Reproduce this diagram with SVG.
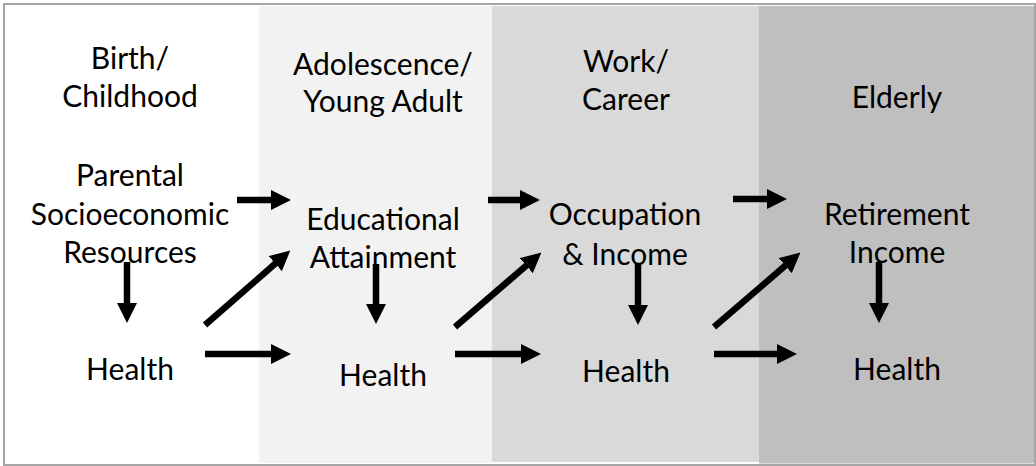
<svg xmlns="http://www.w3.org/2000/svg" width="1036" height="466" viewBox="0 0 1036 466">
  <defs>
    <marker id="head" markerUnits="userSpaceOnUse" viewBox="0 0 20 20" refX="1" refY="10" markerWidth="20" markerHeight="20" orient="auto">
      <path d="M0,0 L20,10 L0,20 Z" fill="#000"/>
    </marker>
    <style>
      .lbl { font-family: Lato, "Open Sans", "Liberation Sans", sans-serif; font-size: 30px; fill: #000; text-anchor: middle; }
      .arr { stroke: #000; stroke-width: 6.5; fill: none; marker-end: url(#head); }
    </style>
  </defs>

  <!-- life stage bands -->
  <g id="bands">
    <rect x="0" y="0" width="1036" height="466" fill="#ffffff"/>
    <rect x="259" y="6" width="233" height="457" fill="#f2f2f2"/>
    <rect x="492" y="6" width="267" height="456" fill="#d9d9d9"/>
    <rect x="759" y="6" width="275" height="457.5" fill="#bfbfbf"/>
    <rect x="4" y="4" width="1031" height="461" fill="none" stroke="#a5a5a5" stroke-width="2"/>
  </g>

  <!-- stage headings -->
  <g id="stage-birth">
    <text class="lbl" x="130" y="69">Birth/</text>
    <text class="lbl" x="130" y="107">Childhood</text>
  </g>
  <g id="stage-adolescence">
    <text class="lbl" x="383" y="75">Adolescence/</text>
    <text class="lbl" x="383" y="112">Young Adult</text>
  </g>
  <g id="stage-work">
    <text class="lbl" x="626" y="72">Work/</text>
    <text class="lbl" x="626" y="110">Career</text>
  </g>
  <g id="stage-elderly">
    <text class="lbl" x="897" y="108">Elderly</text>
  </g>

  <!-- socioeconomic nodes -->
  <g id="node-parental">
    <text class="lbl" x="130" y="186">Parental</text>
    <text class="lbl" x="130" y="225">Socioeconomic</text>
    <text class="lbl" x="130" y="263">Resources</text>
  </g>
  <g id="node-education">
    <text class="lbl" x="383" y="230">Educational</text>
    <text class="lbl" x="383" y="268">Attainment</text>
  </g>
  <g id="node-occupation">
    <text class="lbl" x="625" y="225">Occupation</text>
    <text class="lbl" x="625" y="265">&amp; Income</text>
  </g>
  <g id="node-retirement">
    <text class="lbl" x="897" y="225">Retirement</text>
    <text class="lbl" x="897" y="263">Income</text>
  </g>

  <!-- health nodes -->
  <g id="node-health-1"><text class="lbl" x="130" y="380">Health</text></g>
  <g id="node-health-2"><text class="lbl" x="383" y="386">Health</text></g>
  <g id="node-health-3"><text class="lbl" x="626" y="382">Health</text></g>
  <g id="node-health-4"><text class="lbl" x="897" y="380">Health</text></g>

  <!-- connectors: line ends where the arrowhead base begins -->
  <g id="connectors">
    <line class="arr" x1="237" y1="200" x2="272" y2="200"/>
    <line class="arr" x1="488" y1="200" x2="521" y2="200"/>
    <line class="arr" x1="733" y1="199" x2="768" y2="199"/>

    <line class="arr" x1="127" y1="262" x2="127" y2="304"/>
    <line class="arr" x1="376" y1="264" x2="376" y2="305"/>
    <line class="arr" x1="638" y1="263" x2="638" y2="306"/>
    <line class="arr" x1="879" y1="262" x2="879" y2="304"/>

    <line class="arr" x1="205" y1="325" x2="276" y2="263"/>
    <line class="arr" x1="455" y1="327" x2="527" y2="265"/>
    <line class="arr" x1="714" y1="327" x2="786" y2="265"/>

    <line class="arr" x1="205" y1="354" x2="272" y2="354"/>
    <line class="arr" x1="455" y1="354" x2="522" y2="354"/>
    <line class="arr" x1="714" y1="354" x2="778" y2="354"/>
  </g>
</svg>
